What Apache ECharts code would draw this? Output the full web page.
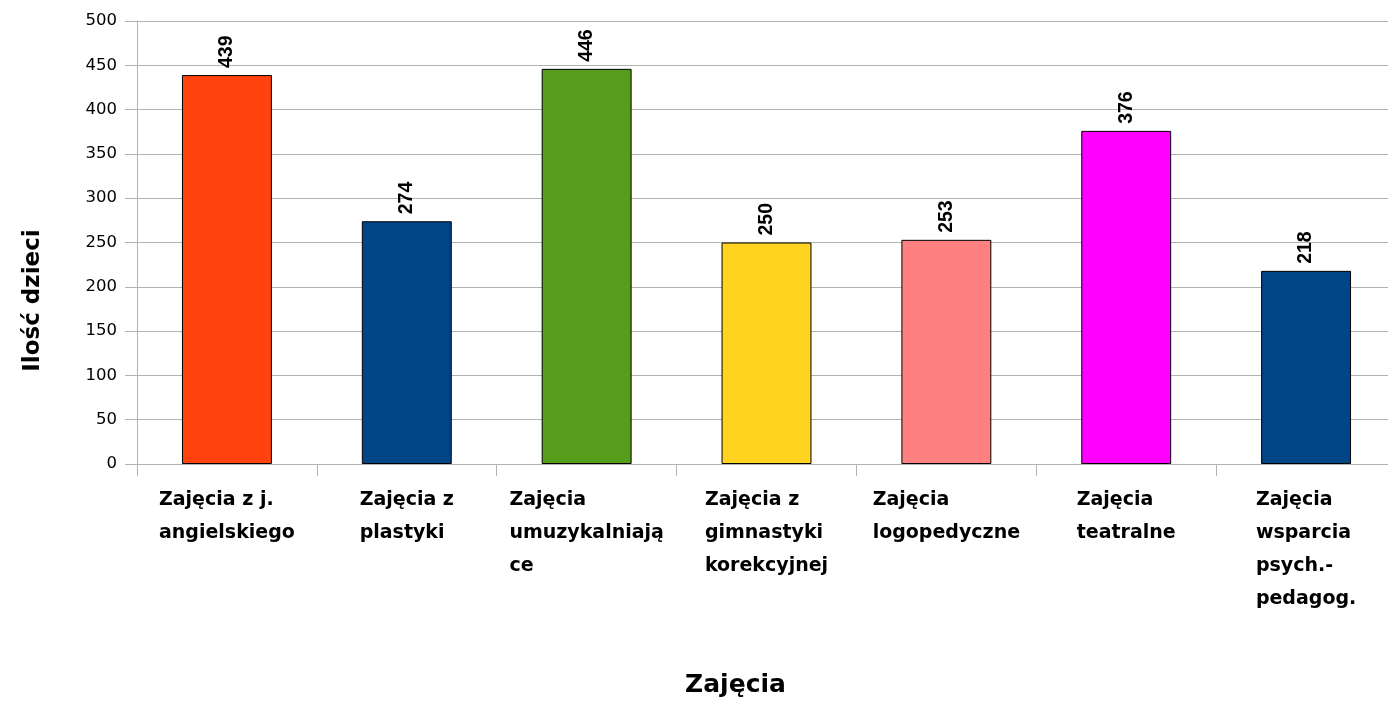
<!DOCTYPE html>
<html>
<head>
<meta charset="utf-8">
<script src="https://cdn.jsdelivr.net/npm/echarts@6/dist/echarts.min.js"></script>
<style>
html,body{margin:0;padding:0;background:#fff;}
#c{width:1388px;height:702px;}
</style>
</head>
<body>
<div id="c"></div>
<script>
const categories = [
  "Zajęcia z j.\nangielskiego",
  "Zajęcia z\nplastyki",
  "Zajęcia\numuzykalniają\nce",
  "Zajęcia z\ngimnastyki\nkorekcyjnej",
  "Zajęcia\nlogopedyczne",
  "Zajęcia\nteatralne",
  "Zajęcia\nwsparcia\npsych.-\npedagog."
];
const values = [439, 274, 446, 250, 253, 376, 218];
const colors = ["#ff420e", "#004586", "#579d1c", "#ffd320", "#ff8080", "#ff00ff", "#004586"];
const yAxisName = "Ilość dzieci";
const xAxisName = "Zajęcia";

const WIDE = "'DejaVu Sans', 'Liberation Sans', sans-serif";
const NARROW = "'Liberation Sans', Arial, sans-serif";
const chart = echarts.init(document.getElementById('c'), null, {renderer: 'canvas'});
chart.setOption({
  animation: false,
  backgroundColor: '#ffffff',
  grid: {left: 137, top: 21, width: 1259, height: 443, containLabel: false, outerBoundsMode: 'none'},
  xAxis: {
    type: 'category',
    data: categories,
    boundaryGap: true,
    axisLine: {show: true, lineStyle: {color: '#b3b3b3', width: 1}},
    axisTick: {show: true, alignWithLabel: false, length: 12, lineStyle: {color: '#b3b3b3'}},
    axisLabel: {
      interval: 0,
      margin: 20,
      align: 'center',
      color: '#000',
      fontFamily: WIDE,
      fontWeight: 'bold',
      fontSize: 19,
      lineHeight: 33,
      formatter: function (v) {
        return v.split('\n').map(function (s) { return '{l|' + s + '}'; }).join('\n');
      },
      rich: {
        l: {align: 'left', color: '#000', fontFamily: WIDE, fontWeight: 'bold', fontSize: 19, lineHeight: 33}
      }
    },
    name: xAxisName,
    nameLocation: 'middle',
    nameGap: 209,
    nameTextStyle: {color: '#000', fontFamily: WIDE, fontWeight: 'bold', fontSize: 25, padding: [0, 62, 0, 0]}
  },
  yAxis: {
    type: 'value',
    min: 0,
    max: 500,
    interval: 50,
    axisLine: {show: true, lineStyle: {color: '#b3b3b3', width: 1}},
    axisTick: {show: true, length: 12, lineStyle: {color: '#b3b3b3'}},
    splitLine: {show: true, lineStyle: {color: '#b3b3b3', width: 1}},
    axisLabel: {margin: 20, color: '#000', fontFamily: WIDE, fontSize: 16.5},
    name: yAxisName,
    nameLocation: 'middle',
    nameGap: 92,
    nameRotate: 90,
    nameTextStyle: {color: '#000', fontFamily: WIDE, fontWeight: 'bold', fontSize: 23, padding: [0, 116, 0, 0]}
  },
  series: [{
    type: 'bar',
    barWidth: '50%',
    data: values.map(function (v, i) {
      return {value: v, itemStyle: {color: colors[i]}};
    }),
    itemStyle: {borderColor: '#000', borderWidth: 1},
    label: {
      show: true,
      position: 'top',
      distance: 7,
      rotate: 90,
      align: 'left',
      verticalAlign: 'middle',
      color: '#000',
      fontFamily: NARROW,
      fontWeight: 'bold',
      fontSize: 19.5
    }
  }]
});
</script>
</body>
</html>
